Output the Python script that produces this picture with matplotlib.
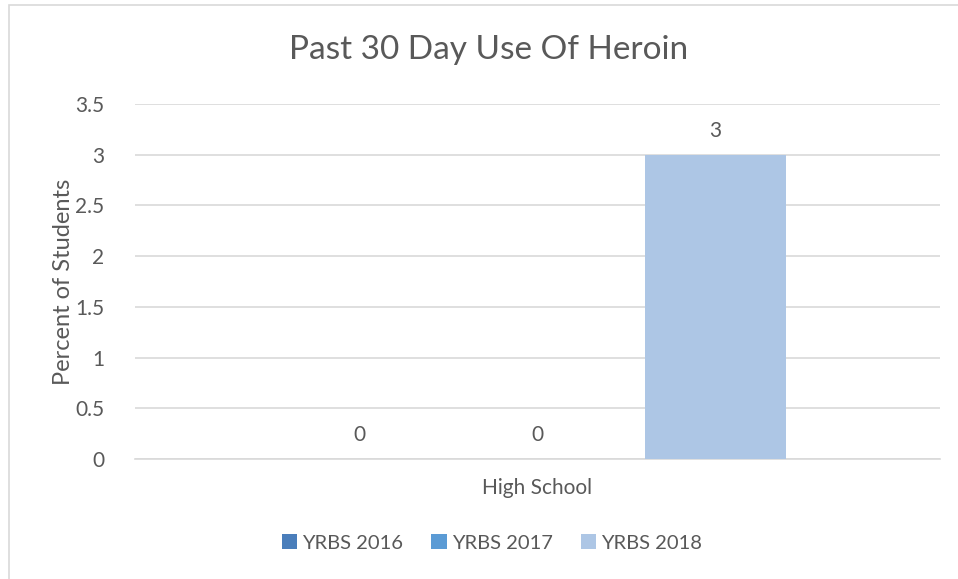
import numpy as np
import matplotlib.pyplot as plt
from matplotlib.patches import Rectangle

# data
categories = ['High School']
series = ['YRBS 2016', 'YRBS 2017', 'YRBS 2018']
values = [0, 0, 3]
colors = ['#4a7ebb', '#5b9bd5', '#adc6e5']

text_color = '#595959'
grid_color = '#d9d9d9'
plt.rcParams['font.family'] = ['Lato', 'DejaVu Sans']

fig = plt.figure(figsize=(9.58, 5.79), dpi=100)
# chart area border
fig.patches.append(Rectangle((9 / 958, -0.05), 1.1, 1 - 5 / 579 + 0.05,
                             transform=fig.transFigure, fill=False,
                             edgecolor=grid_color, linewidth=1.2))

ax = fig.add_axes([135 / 958, 1 - 459 / 579, 805 / 958, (459 - 104) / 579])

bar_w = 141 / 805
step = 178 / 805
x = np.arange(len(categories))
for i, (name, val, col) in enumerate(zip(series, values, colors)):
    pos = x + (i - 1) * step
    ax.bar(pos, [val], width=bar_w, color=col, label=name, zorder=3)
    ax.text(pos[0], val + 0.14, f'{val:g}', ha='center', va='bottom',
            fontsize=15, color=text_color)

ax.set_xlim(-0.5, 0.5)
ax.set_ylim(0, 3.5)
ax.set_yticks(np.arange(0, 3.51, 0.5))
ax.set_yticklabels(['0', '0.5', '1', '1.5', '2', '2.5', '3', '3.5'])
ax.set_xticks(x)
ax.set_xticklabels(categories)
ax.yaxis.grid(True, color=grid_color, linewidth=1.2, zorder=0)
ax.tick_params(length=0, labelsize=15, colors=text_color)
ax.tick_params(axis='y', pad=22)
ax.tick_params(axis='x', pad=14)
for s in ['top', 'right', 'left']:
    ax.spines[s].set_visible(False)
ax.spines['bottom'].set_color(grid_color)
ax.spines['bottom'].set_linewidth(1.2)

ax.set_ylabel('Percent of Students', fontsize=17, color=text_color, labelpad=1)
fig.text(489 / 958, 1 - 50 / 579, 'Past 30 Day Use Of Heroin', ha='center',
         va='center', fontsize=24, color=text_color)

leg = fig.legend(loc='center', bbox_to_anchor=(492 / 958, 1 - 543 / 579),
                 ncol=3, frameon=False, fontsize=14.5, handlelength=0.75,
                 handleheight=0.75, handletextpad=0.25, columnspacing=1.4)
for t in leg.get_texts():
    t.set_color(text_color)

fig.savefig('out.png', dpi=100)
